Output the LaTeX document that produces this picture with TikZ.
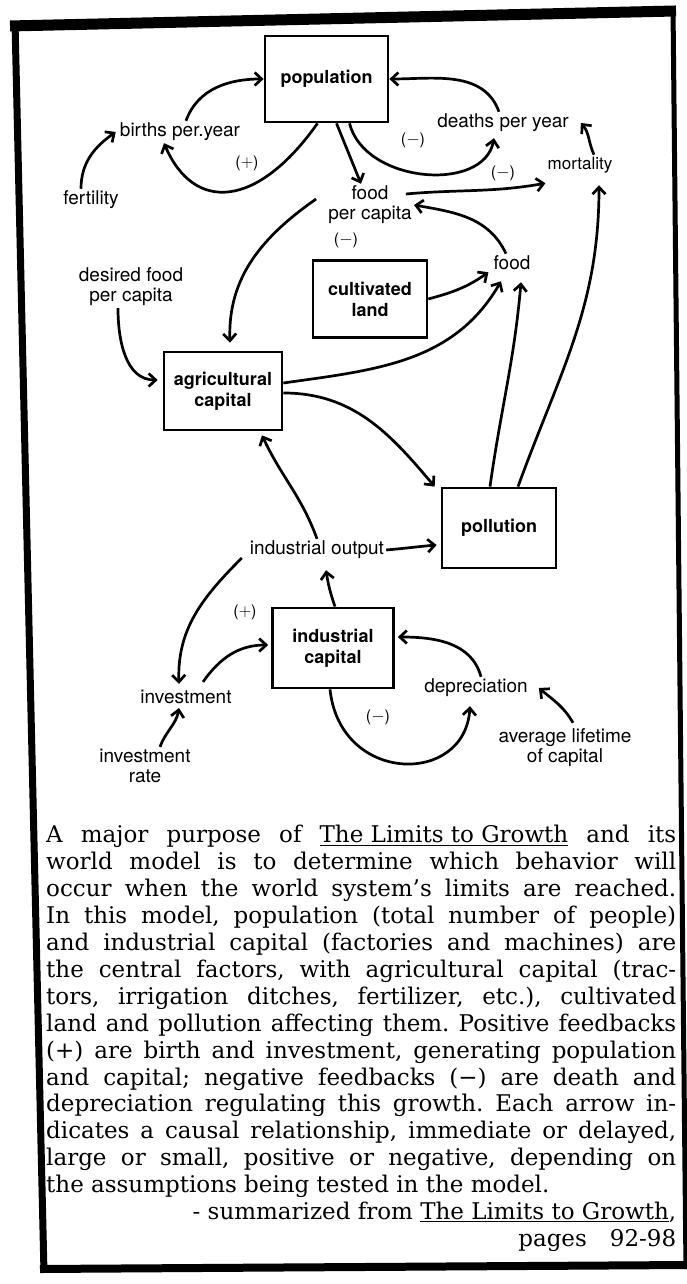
\documentclass[tikz,border=0pt]{standalone}
\usepackage{fontspec}
\setmainfont{DejaVu Serif}
\setsansfont{TeX Gyre Heros}
\usetikzlibrary{arrows.meta}
\tikzset{
  box/.style={draw,line width=2.7pt,align=center,inner sep=0pt,
    font=\sffamily\bfseries\fontsize{18}{21}\selectfont},
  lbl/.style={align=center,inner sep=2pt,font=\sffamily\fontsize{19}{20}\selectfont},
  sgn/.style={inner sep=0pt,font=\sffamily\fontsize{16}{16}\selectfont},
  link/.style={->,line width=2.7pt}
}
\begin{document}
\begin{tikzpicture}[x=1pt,y=1pt,>={Straight Barb[length=7pt,width=13pt]}]
  \useasboundingbox (0,0) rectangle (686,1284);
  \draw[line width=7pt] (15,1262) -- (44,11);
  \draw[line width=5pt] (673,1276) -- (686,15);
  \draw[line width=11pt] (10,1258) -- (676,1273);
  \draw[line width=8pt] (40,15) -- (690,19);

  \node[box,minimum width=123pt,minimum height=86pt] (pop) at (326.5,1205) {population};
  \node[lbl] (births) at (180,1152) {births per.year};
  \node[lbl] (fert) at (91,1084) {fertility};
  \node[lbl] (deaths) at (503,1161) {deaths per year};
  \node[lbl,font=\sffamily\fontsize{17}{18}\selectfont] (mort) at (580,1119) {mortality};
  \node[lbl] (fpc) at (370,1079) {food\\per capita};
  \node[box,minimum width=114pt,minimum height=77pt] (cult) at (370,985) {cultivated\\land};
  \node[lbl] (food) at (512,1021) {food};
  \node[lbl] (desired) at (131,997) {desired food\\per capita};
  \node[box,minimum width=118pt,minimum height=78pt] (agri) at (223,893) {agricultural\\capital};
  \node[box,minimum width=114pt,minimum height=80pt] (pollu) at (499,756) {pollution};
  \node[lbl] (indout) at (317,734) {industrial output};
  \node[box,minimum width=121pt,minimum height=80pt] (indcap) at (333,636) {industrial\\capital};
  \node[lbl] (invest) at (186,587) {investment};
  \node[lbl] (deprec) at (476,596) {depreciation};
  \node[lbl] (invrate) at (145,518) {investment\\rate};
  \node[lbl] (avglife) at (565,536) {average lifetime\\of capital};

  \node[sgn] (plusA) at (247,1121) {($+$)};
  \node[sgn] (minusA) at (413,1144) {($-$)};
  \node[sgn] (minusB) at (503,1111) {($-$)};
  \node[sgn] (minusC) at (346,1044) {($-$)};
  \node[sgn] (plusB) at (245,672) {($+$)};
  \node[sgn] (minusD) at (378,567) {($-$)};

  \draw[link] ([xshift=-10pt]fert.north) to[out=90,in=215] ([xshift=-2pt]births.west);
  \draw[link] ([xshift=6pt]births.north) to[out=70,in=180] (pop.west);
  \draw[link] ([xshift=-9pt]pop.south) .. controls +(-60,-85) and +(30,-70) .. ([xshift=-16pt]births.south);
  \draw[link] ([xshift=10pt]pop.south) -- ([xshift=-9pt]fpc.north);
  \draw[link] ([xshift=23pt]pop.south) .. controls +(15,-60) and +(-10,-55) .. ([xshift=-9pt,yshift=-4pt]deaths.south);
  \draw[link] ([xshift=-4pt]deaths.north) to[out=110,in=0] (pop.east);
  \draw[link] ([xshift=14pt]mort.north) to[out=115,in=-50] ([xshift=10pt]deaths.east);
  \draw[link] ([xshift=-8pt,yshift=11pt]fpc.east) to[out=5,in=190] ([yshift=-8pt]mort.south west);
  \draw[link] ([xshift=-6pt]food.north) to[out=115,in=-10] (fpc.east);
  \draw[link] ([xshift=-10pt,yshift=6pt]fpc.west) to[out=215,in=92] ([xshift=7pt,yshift=8pt]agri.north);
  \draw[link] ([xshift=-13pt]desired.south) to[out=-90,in=180] ([xshift=-5pt,yshift=11pt]agri.west);
  \draw[link] (cult.east) to[out=15,in=215] ([xshift=-3pt]food.south west);
  \draw[link] ([yshift=8pt]agri.east) to[out=8,in=-120] ([xshift=-11pt,yshift=-9pt]food.south);
  \draw[link] ([yshift=-2pt]agri.east) to[out=0,in=130] ([xshift=-6pt]pollu.north west);
  \draw[link] ([xshift=-9pt]pollu.north) to[out=82,in=-95] ([xshift=9pt,yshift=-10pt]food.south);
  \draw[link] ([xshift=19pt]pollu.north) to[out=70,in=-90] ([xshift=19pt,yshift=-10pt]mort.south);
  \draw[link] (indout.north) to[out=110,in=-65] ([xshift=39pt,yshift=-4pt]agri.south);
  \draw[link] (indout.east) to[out=5,in=185] ([xshift=-4pt,yshift=-17pt]pollu.west);
  \draw[link] ([xshift=2pt]indcap.north) to[bend left=5] ([xshift=9pt,yshift=-9pt]indout.south);
  \draw[link] ([xshift=-6pt,yshift=-8pt]indout.west) to[out=225,in=92] ([xshift=-7pt,yshift=4pt]invest.north);
  \draw[link] ([xshift=17pt,yshift=6pt]invest.north) to[out=55,in=180] ([xshift=-3pt,yshift=3pt]indcap.west);
  \draw[link] ([xshift=5pt]deprec.north) to[out=105,in=0] ([xshift=3pt,yshift=11pt]indcap.east);
  \draw[link] ([xshift=-3pt]indcap.south) .. controls +(10,-95) and +(-5,-80) .. ([xshift=-6pt,yshift=-7pt]deprec.south);
  \draw[link] ([xshift=8pt,yshift=4pt]avglife.north) to[out=120,in=-40] ([xshift=9pt]deprec.east);
  \draw[link] ([xshift=15pt]invrate.north) to[out=70,in=-100] ([xshift=-7pt,yshift=-2pt]invest.south);

  \node[anchor=base west,inner sep=0pt] (summary) at (46,441) {\parbox[t]{630pt}{\frenchspacing\fontsize{23}{26.9}\selectfont
    A major purpose of \underline{The Limits to Growth} and its\linebreak
    world model is to determine which behavior will\linebreak
    occur when the world system’s limits are reached.\linebreak
    In this model, population (total number of people)\linebreak
    and industrial capital (factories and machines) are\linebreak
    the central factors, with agricultural capital (trac-\linebreak
    tors, irrigation ditches, fertilizer, etc.), cultivated\linebreak
    land and pollution affecting them. Positive feedbacks\linebreak
    (+) are birth and investment, generating population\linebreak
    and capital; negative feedbacks (−) are death and\linebreak
    depreciation regulating this growth. Each arrow in-\linebreak
    dicates a causal relationship, immediate or delayed,\linebreak
    large or small, positive or negative, depending on\linebreak
    the assumptions being tested in the model.\\
    \hspace*{\fill}- summarized from \underline{The Limits to Growth},\\
    \hspace*{\fill}pages\quad 92-98}};
\end{tikzpicture}
\end{document}
